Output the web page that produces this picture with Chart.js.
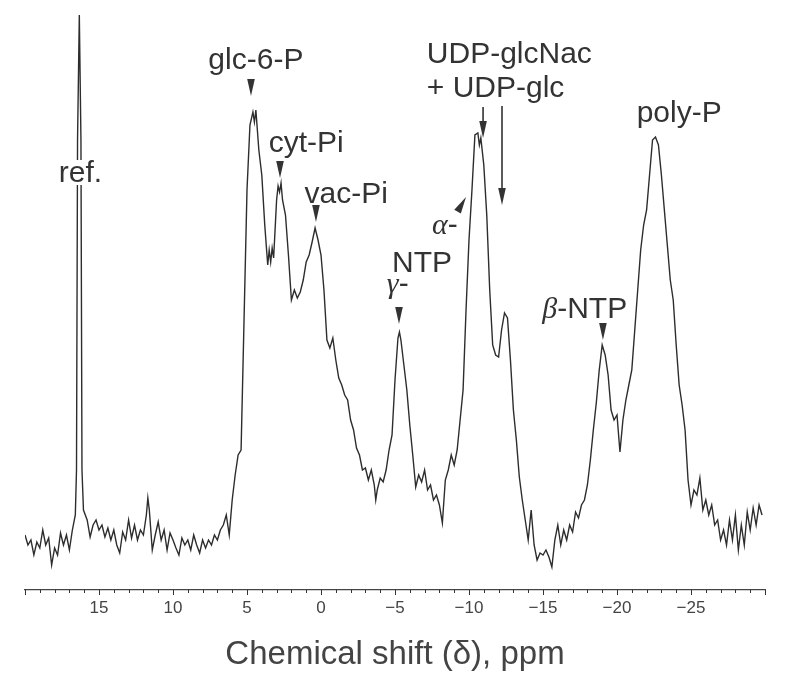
<!DOCTYPE html>
<html>
<head>
<meta charset="utf-8">
<script src="https://cdn.jsdelivr.net/npm/chart.js@4.4.1/dist/chart.umd.min.js"></script>
<style>
  body { margin: 0; background: #fff; }
  canvas { display: block; }
</style>
</head>
<body>
<canvas id="spectrum" width="789" height="687"></canvas>
<script>
// 31P NMR spectrum, chemical shift (ppm) vs signal intensity (arbitrary units)
const shiftPpm = [
  20.0, 19.8, 19.6, 19.4, 19.2, 19.0, 18.8, 18.6, 18.4, 18.2, 18.0, 17.8, 17.6, 17.4, 17.2, 17.0,
  16.8, 16.6, 16.52, 16.45, 16.33, 16.22, 16.15, 16.05, 15.8, 15.6, 15.4, 15.2, 15.0, 14.8, 14.6, 14.4,
  14.2, 14.0, 13.8, 13.6, 13.4, 13.2, 13.0, 12.8, 12.6, 12.4, 12.2, 12.0, 11.8, 11.7, 11.6, 11.4,
  11.2, 11.0, 10.8, 10.6, 10.4, 10.2, 10.0, 9.8, 9.6, 9.4, 9.2, 9.0, 8.8, 8.6, 8.4, 8.2,
  8.0, 7.8, 7.6, 7.4, 7.2, 7.0, 6.8, 6.6, 6.4, 6.2, 6.0, 5.8, 5.6, 5.4, 5.2, 5.0,
  4.8, 4.6, 4.5, 4.4, 4.2, 4.0, 3.8, 3.6, 3.5, 3.4, 3.3, 3.2, 3.0, 2.9, 2.8, 2.7,
  2.6, 2.4, 2.2, 2.0, 1.8, 1.6, 1.4, 1.2, 1.0, 0.8, 0.6, 0.4, 0.2, 0.0, -0.2, -0.4,
  -0.6, -0.8, -1.0, -1.2, -1.4, -1.6, -1.8, -2.0, -2.2, -2.4, -2.6, -2.8, -3.0, -3.2, -3.4, -3.6,
  -3.7, -3.8, -4.0, -4.2, -4.4, -4.6, -4.8, -5.0, -5.2, -5.3, -5.4, -5.6, -5.8, -6.0, -6.2, -6.4,
  -6.6, -6.8, -7.0, -7.2, -7.4, -7.6, -7.8, -8.0, -8.2, -8.4, -8.6, -8.8, -9.0, -9.2, -9.4, -9.6,
  -9.8, -10.0, -10.2, -10.4, -10.6, -10.7, -10.8, -11.0, -11.2, -11.4, -11.6, -11.8, -12.0, -12.2, -12.4, -12.6,
  -12.8, -13.0, -13.2, -13.4, -13.6, -13.8, -14.0, -14.2, -14.4, -14.6, -14.8, -15.0, -15.2, -15.4, -15.6, -15.8,
  -16.0, -16.2, -16.4, -16.6, -16.8, -17.0, -17.2, -17.4, -17.6, -17.8, -18.0, -18.2, -18.4, -18.6, -18.8, -19.0,
  -19.2, -19.4, -19.6, -19.8, -20.0, -20.2, -20.4, -20.6, -20.8, -21.0, -21.2, -21.4, -21.6, -21.8, -22.0, -22.2,
  -22.4, -22.6, -22.8, -23.0, -23.2, -23.4, -23.6, -23.8, -24.0, -24.2, -24.4, -24.6, -24.8, -25.0, -25.2, -25.4,
  -25.6, -25.8, -26.0, -26.2, -26.4, -26.6, -26.8, -27.0, -27.2, -27.4, -27.6, -27.8, -28.0, -28.2, -28.4, -28.6,
  -28.8, -29.0, -29.2, -29.4, -29.6, -29.8
];
const intensity = [
  25, 15, 20, 5, 18, 12, 30, 15, 22, -5, 12, 5, 27, 15, 25, 10,
  30, 45, 90, 420, 545, 420, 90, 50, 40, 23, 35, 40, 30, 35, 23, 32,
  20, 30, 15, 7, 28, 20, 40, 22, 35, 20, 30, 25, 45, 62, 50, 10,
  25, 38, 20, 30, 10, 27, 20, 12, 5, 22, 15, 20, 10, 25, 15, 7,
  20, 12, 20, 15, 25, 20, 30, 35, 45, 25, 60, 85, 105, 110, 240, 370,
  435, 448, 438, 450, 410, 385, 335, 295, 310, 298, 312, 302, 360, 374, 368, 377,
  360, 345, 305, 260, 270, 262, 268, 280, 298, 305, 318, 332, 320, 305, 270, 220,
  212, 222, 200, 182, 175, 165, 160, 140, 130, 112, 105, 90, 92, 80, 90, 75,
  60, 70, 82, 78, 90, 110, 125, 180, 222, 228, 220, 195, 170, 135, 105, 73,
  85, 78, 90, 70, 75, 60, 65, 55, 37, 80, 90, 105, 95, 110, 140, 170,
  250, 320, 370, 425, 427, 415, 422, 395, 345, 270, 215, 205, 203, 230, 247, 242,
  200, 150, 120, 83, 60, 40, 20, 50, 15, 0, 7, 5, 10, 3, -7, 20,
  35, 15, 30, 20, 35, 28, 48, 42, 55, 60, 75, 100, 130, 157, 190, 215,
  205, 185, 150, 140, 145, 108, 140, 160, 175, 190, 230, 270, 310, 335, 350, 385,
  420, 423, 415, 385, 350, 315, 280, 260, 215, 175, 155, 130, 80, 55, 70, 65,
  82, 50, 60, 45, 55, 35, 40, 20, 30, 15, 40, 20, 45, 10, 35, 15,
  48, 30, 52, 35, 55, 45
];
const majorTicks = [15, 10, 5, 0, -5, -10, -15, -20, -25];

const INK = '#333';
const SANS = '"Liberation Sans", Arial, Helvetica, sans-serif';
const GREEK = 'italic 30px "Liberation Serif", "Times New Roman", serif';

// peak labels, placed in data coordinates (ppm, intensity of text baseline)
const peakLabels = [
  { parts: [['ref.', SANS]], ppm: 16.25, y: 378, align: 'center', bg: true },
  { parts: [['glc-6-P', SANS]], ppm: 4.4, y: 491, align: 'center' },
  { parts: [['cyt-Pi', SANS]], ppm: 1.0, y: 408, align: 'center' },
  { parts: [['vac-Pi', SANS]], ppm: -1.7, y: 357, align: 'center' },
  { parts: [['UDP-glcNac', SANS]], ppm: -7.15, y: 497, align: 'left' },
  { parts: [['+ UDP-glc', SANS]], ppm: -7.15, y: 463, align: 'left' },
  { parts: [['\u03b1', GREEK], ['-', SANS]], ppm: -7.5, y: 326, align: 'left' },
  { parts: [['NTP', SANS]], ppm: -4.8, y: 288, align: 'left' },
  { parts: [['\u03b3', GREEK], ['-', SANS]], ppm: -4.45, y: 267, align: 'left' },
  { parts: [['\u03b2', GREEK], ['-NTP', SANS]], ppm: -14.95, y: 242, align: 'left' },
  { parts: [['poly-P', SANS]], ppm: -24.2, y: 438, align: 'center' }
];
// arrow heads: tip position, shaft length (px), direction (deg, 90 = down)
const arrows = [
  { ppm: 4.73, y: 464, shaft: 0, dir: 90 },
  { ppm: 2.77, y: 382, shaft: 0, dir: 90 },
  { ppm: 0.34, y: 338, shaft: 0, dir: 90 },
  { ppm: -5.27, y: 236, shaft: 0, dir: 90 },
  { ppm: -19.05, y: 220, shaft: 0, dir: 90 },
  { ppm: -9.8, y: 363, shaft: 0, dir: -60 },
  { ppm: -10.95, y: 422, shaft: 14, dir: 90 },
  { ppm: -12.23, y: 355, shaft: 82, dir: 90 }
];

const annotate = {
  id: 'annotate',
  afterDraw(chart) {
    const { ctx, scales: { x, y } } = chart;
    ctx.save();
    ctx.fillStyle = INK;
    ctx.strokeStyle = INK;
    ctx.textBaseline = 'alphabetic';
    ctx.textAlign = 'left';

    // minor / major tick marks under the axis line
    const bottom = chart.chartArea.bottom;
    ctx.lineWidth = 1;
    for (let v = 20; v >= -30; v--) {
      const px = Math.round(x.getPixelForValue(v)) + 0.5;
      ctx.beginPath();
      ctx.moveTo(px, bottom);
      ctx.lineTo(px, bottom + (v % 5 === 0 ? 5 : 3));
      ctx.stroke();
    }

    peakLabels.forEach(lab => {
      const widths = lab.parts.map(([t, f]) => {
        ctx.font = f === SANS ? '30px ' + SANS : f;
        return ctx.measureText(t).width;
      });
      const total = widths.reduce((a, b) => a + b, 0);
      let px = x.getPixelForValue(lab.ppm);
      const py = y.getPixelForValue(lab.y);
      if (lab.align === 'center') px -= total / 2;
      if (lab.bg) {
        ctx.fillStyle = '#fff';
        ctx.fillRect(px - 1, py - 22, total + 2, 25);
        ctx.fillStyle = INK;
      }
      lab.parts.forEach(([t, f], i) => {
        ctx.font = f === SANS ? '30px ' + SANS : f;
        ctx.fillText(t, px, py);
        px += widths[i];
      });
    });

    arrows.forEach(a => {
      const tx = x.getPixelForValue(a.ppm);
      const ty = y.getPixelForValue(a.y);
      const r = a.dir * Math.PI / 180;
      const ux = Math.cos(r), uy = Math.sin(r);
      const head = 17, half = 3.8;
      const bx = tx - ux * head, by = ty - uy * head;
      if (a.shaft > 0) {
        ctx.lineWidth = 1.6;
        ctx.beginPath();
        ctx.moveTo(bx - ux * a.shaft, by - uy * a.shaft);
        ctx.lineTo(bx, by);
        ctx.stroke();
      }
      ctx.beginPath();
      ctx.moveTo(tx, ty);
      ctx.lineTo(bx - uy * half, by + ux * half);
      ctx.lineTo(bx + uy * half, by - ux * half);
      ctx.closePath();
      ctx.fill();
    });
    ctx.restore();
  }
};

new Chart(document.getElementById('spectrum'), {
  type: 'line',
  data: {
    datasets: [{
      data: shiftPpm.map((s, i) => ({ x: s, y: intensity[i] })),
      borderColor: '#2d2d2d',
      borderWidth: 1.4,
      pointRadius: 0,
      tension: 0,
      fill: false
    }]
  },
  options: {
    responsive: false,
    animation: false,
    devicePixelRatio: 1,
    layout: { padding: { left: 25, right: 24, top: 5, bottom: 0 } },
    plugins: { legend: { display: false }, tooltip: { enabled: false } },
    scales: {
      x: {
        type: 'linear',
        reverse: true,
        min: -30,
        max: 20,
        afterFit(scale) { scale.height = 97; },
        border: { display: true, color: '#444', width: 1.2 },
        grid: { display: false, drawTicks: false },
        ticks: {
          stepSize: 5,
          padding: 8,
          color: '#444',
          font: { family: SANS, size: 17 },
          callback: v => majorTicks.includes(v) ? (v < 0 ? '\u2212' + Math.abs(v) : String(v)) : ''
        },
        title: {
          display: true,
          text: 'Chemical shift (\u03b4), ppm',
          color: '#444',
          font: { family: SANS, size: 33 },
          padding: { top: 0, bottom: 12 }
        }
      },
      y: {
        display: false,
        min: -30,
        max: 555
      }
    }
  },
  plugins: [annotate]
});
</script>
</body>
</html>
